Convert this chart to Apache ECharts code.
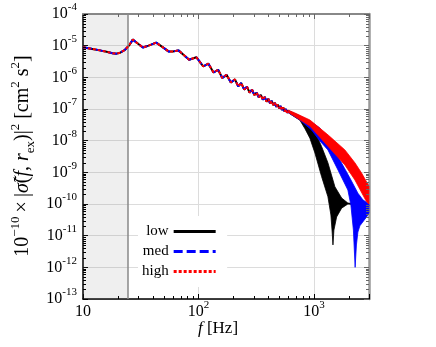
<!DOCTYPE html>
<html>
<head>
<meta charset="utf-8">
<script src="https://cdn.jsdelivr.net/npm/echarts@6/dist/echarts.min.js"></script>
<style>
  html, body { margin: 0; padding: 0; background: #fff; }
  #chart { width: 436px; height: 347px; }
</style>
</head>
<body>
<div id="chart"></div>
<script>
// axis ranges
const xRange = [10, 3000];
const yRange = [1e-13, 1e-4];
const shadeRange = [10, 24.5];
const seriesNames = ['low', 'med', 'high'];
const minorMultipliers = [2, 3, 4, 5, 6, 7, 8, 9];
const xDecades = [10, 100, 1000];
const yDecades = [1e-13, 1e-12, 1e-11, 1e-10, 1e-9, 1e-8, 1e-7, 1e-6, 1e-5];

// all three curves lie on top of each other up to ~600 Hz
const sharedCurve = [
  [10, 8.9e-6], [12, 7.9e-6], [14, 7.1e-6], [16, 6.4e-6], [18, 5.8e-6], [19.5, 5.6e-6],
  [21, 6.0e-6], [23, 7.3e-6], [25, 1.0e-5], [27, 1.55e-5], [30, 1.15e-5], [33, 8.8e-6],
  [37, 1.0e-5], [43, 1.25e-5], [50, 8.5e-6], [55, 6.6e-6], [60, 6.5e-6], [67, 7.1e-6],
  [75, 5.0e-6], [83, 3.6e-6], [96, 4.3e-6], [110, 2.21e-6], [122, 2.69e-6], [135, 1.42e-6],
  [148, 1.73e-6], [161, 9.5e-7], [175, 1.21e-6], [191, 6.9e-7], [207, 8.6e-7], [221, 5.2e-7],
  [235, 6.6e-7], [249, 4.1e-7], [263, 5.1e-7], [277, 3.3e-7], [291, 4.1e-7], [305, 2.75e-7],
  [319, 3.3e-7], [333, 2.32e-7], [347, 2.8e-7], [361, 1.97e-7], [375, 2.4e-7], [389, 1.7e-7],
  [403, 2.09e-7], [417, 1.5e-7], [431, 1.8e-7], [445, 1.33e-7], [459, 1.57e-7], [473, 1.17e-7],
  [487, 1.39e-7], [501, 1.05e-7], [515, 1.24e-7], [529, 9.3e-8], [543, 1.11e-7], [557, 8.3e-8],
  [571, 1.0e-7], [585, 7.6e-8], [599, 9.1e-8]
];

// above ~600 Hz the curves oscillate so fast they fill a band: upper / lower envelopes
const lowUpper = [
  [600, 9.0e-8], [757, 6.0e-8], [923, 3.4e-8], [1020, 1.9e-8], [1166, 6.5e-9], [1322, 2.0e-9],
  [1520, 3.5e-10], [1738, 1.55e-10], [1968, 1.07e-10], [2995, 9.3e-11]
];
const lowLower = [
  [600, 7.6e-8], [757, 4.4e-8], [836, 2.4e-8], [923, 1.2e-8], [1020, 4.1e-9], [1166, 7.3e-10],
  [1322, 1.7e-10], [1403, 4.5e-11], [1439, 1.3e-11], [1462, 5.1e-12], [1490, 1.5e-11],
  [1573, 3.9e-11], [1738, 7.4e-11], [1968, 1.0e-10], [2995, 8.9e-11]
];
const medUpper = [
  [600, 9.0e-8], [923, 4.2e-8], [1127, 2.5e-8], [1322, 1.05e-8], [1680, 2.45e-9], [2050, 6.6e-10],
  [2404, 2.2e-10], [2656, 1.35e-10], [2995, 1.0e-10]
];
const medLower = [
  [600, 7.6e-8], [757, 4.5e-8], [955, 2.17e-8], [1127, 9.8e-9], [1322, 5.1e-9], [1616, 1.19e-9],
  [1968, 2.77e-10], [2090, 9.3e-11], [2198, 1.5e-11], [2275, 1.0e-12], [2334, 5.1e-12],
  [2404, 1.3e-11], [2502, 2.05e-11], [2858, 3.9e-11], [2995, 5.2e-11]
];
const highUpper = [
  [600, 9.2e-8], [684, 7.5e-8], [923, 4.5e-8], [1330, 1.5e-8], [1855, 5.1e-9], [2265, 2.0e-9],
  [2588, 9.5e-10], [2995, 3.7e-10]
];
const highLower = [
  [600, 7.8e-8], [923, 2.9e-8], [1330, 6.5e-9], [1855, 1.7e-9], [2265, 5.75e-10],
  [2858, 1.17e-10], [2995, 1.0e-10]
];

const serif = 'Liberation Serif';
const minorX = [];
xDecades.forEach(d => minorMultipliers.forEach(m => { if (d * m < xRange[1]) minorX.push(d * m); }));
const minorY = [];
yDecades.forEach(d => minorMultipliers.forEach(m => minorY.push(d * m)));

const powRich = {
  b: { fontFamily: serif, fontSize: 16, lineHeight: 24, verticalAlign: 'middle', color: '#000' },
  s: { fontFamily: serif, fontSize: 11, lineHeight: 24, verticalAlign: 'top', color: '#000' }
};
const powLabel = v => {
  const e = Math.log10(v);
  if (Math.abs(e - Math.round(e)) > 1e-6) return '';
  const n = Math.round(e);
  return n === 1 ? '{b|10}' : '{b|10}{s|' + n + '}';
};

const band = (name, upper, lower, color, z) => ({
  type: 'custom',
  name: name,
  z: z,
  silent: true,
  data: [upper[0]],
  renderItem: (params, api) => ({
    type: 'polygon',
    shape: { points: upper.concat(lower.slice().reverse()).map(p => api.coord(p)) },
    style: { fill: color, stroke: color, lineWidth: 0.8 }
  })
});

const chart = echarts.init(document.getElementById('chart'));

chart.setOption({
  animation: false,
  backgroundColor: '#fff',
  grid: { left: 83, right: 67, top: 14, bottom: 48 },
  legend: {
    data: seriesNames,
    orient: 'vertical',
    left: 138,
    top: 216,
    align: 'right',
    itemWidth: 42,
    itemHeight: 14,
    itemGap: 5,
    padding: [8, 10, 8, 4],
    backgroundColor: '#fff',
    textStyle: { fontFamily: serif, fontSize: 15, color: '#000' },
    itemStyle: { opacity: 0 },
    lineStyle: { width: 3 }
  },
  xAxis: [
    {
      type: 'log', logBase: 10, min: xRange[0], max: xRange[1], position: 'bottom', splitNumber: 3,
      axisLine: { lineStyle: { color: '#000', width: 1.5 } },
      axisTick: { inside: true, length: 5, lineStyle: { color: '#000' } },
      axisLabel: { formatter: powLabel, rich: powRich, margin: 1 },
      splitLine: { show: true, lineStyle: { color: '#dcdcdc', width: 1 } }
    },
    {
      type: 'log', logBase: 10, min: xRange[0], max: xRange[1], position: 'top', splitNumber: 3,
      axisLine: { lineStyle: { color: '#888', width: 2 } },
      axisTick: { inside: true, length: 5, lineStyle: { color: '#666' } },
      axisLabel: { show: false },
      splitLine: { show: false }
    }
  ],
  yAxis: [
    {
      type: 'log', logBase: 10, min: yRange[0], max: yRange[1], position: 'left', splitNumber: 9,
      axisLine: { show: true, lineStyle: { color: '#000', width: 1.5 } },
      axisTick: { show: true, inside: true, length: 5, lineStyle: { color: '#000' } },
      axisLabel: { formatter: powLabel, rich: powRich, margin: 6 },
      splitLine: { show: true, lineStyle: { color: '#dcdcdc', width: 1 } }
    },
    {
      type: 'log', logBase: 10, min: yRange[0], max: yRange[1], position: 'right', splitNumber: 9,
      axisLine: { show: true, lineStyle: { color: '#999', width: 2.5 } },
      axisTick: { show: true, inside: true, length: 5, lineStyle: { color: '#666' } },
      axisLabel: { show: false },
      splitLine: { show: false }
    }
  ],
  series: [
    {
      name: 'low', type: 'line', data: sharedCurve, symbol: 'none', z: 3,
      lineStyle: { color: '#000', width: 2 }, itemStyle: { color: '#000' },
      markArea: {
        silent: true,
        itemStyle: { color: 'rgba(120,120,120,0.12)' },
        data: [[{ xAxis: shadeRange[0] }, { xAxis: shadeRange[1] }]]
      },
      markLine: {
        silent: true, symbol: ['none', 'none'], label: { show: false },
        lineStyle: { color: '#888', width: 1.5, type: 'solid' },
        data: [{ xAxis: shadeRange[1] }]
      }
    },
    {
      name: 'med', type: 'line', data: sharedCurve, symbol: 'none', z: 4,
      lineStyle: { color: '#0000ff', width: 2, type: [9, 4] }, itemStyle: { color: '#0000ff' }
    },
    {
      name: 'high', type: 'line', data: sharedCurve, symbol: 'none', z: 5,
      lineStyle: { color: '#ff0000', width: 2, type: [3, 2] }, itemStyle: { color: '#ff0000' }
    },
    band('low band', lowUpper, lowLower, '#000', 3),
    band('med band', medUpper, medLower, '#0000ff', 4),
    band('high band', highUpper, highLower, '#ff0000', 5),
    {
      // minor log ticks on all four sides
      type: 'custom', silent: true, z: 6,
      data: [[xRange[0], yRange[0]]],
      renderItem: (params, api) => {
        const cs = params.coordSys;
        const children = [];
        const seg = (x1, y1, x2, y2, c) => children.push({
          type: 'line', shape: { x1, y1, x2, y2 }, style: { stroke: c, lineWidth: 1 }
        });
        minorX.forEach(v => {
          const x = Math.round(api.coord([v, yRange[0]])[0]) + 0.5;
          seg(x, cs.y + cs.height, x, cs.y + cs.height - 3, '#000');
          seg(x, cs.y, x, cs.y + 3, '#666');
        });
        minorY.forEach(v => {
          const y = Math.round(api.coord([xRange[0], v])[1]) + 0.5;
          seg(cs.x, y, cs.x + 3, y, '#000');
          seg(cs.x + cs.width, y, cs.x + cs.width - 3, y, '#666');
        });
        return { type: 'group', children: children };
      }
    }
  ],
  graphic: [
    {
      type: 'text', x: 218, y: 329,
      style: {
        text: '{i|f} [Hz]',
        font: '17px "Liberation Serif"', fill: '#000', align: 'center', verticalAlign: 'middle',
        rich: { i: { fontFamily: serif, fontSize: 17, fontStyle: 'italic' } }
      }
    },
    {
      type: 'text', x: 23, y: 156, rotation: Math.PI / 2,
      style: {
        text: '{n|10}{sup|\u221210}{n|\u2009\u00d7\u2009|}{i|\u03c3\u0303}{n|(}{i|f}{n|, }{i|r}{sub|ex}{n|)|}{sup|2}{n| [cm}{sup|2}{n| s}{sup|2}{n|]}',
        align: 'center', verticalAlign: 'middle', fill: '#000',
        rich: {
          n: { fontFamily: serif, fontSize: 20, lineHeight: 28, verticalAlign: 'middle' },
          i: { fontFamily: serif, fontSize: 20, lineHeight: 28, fontStyle: 'italic', verticalAlign: 'middle' },
          sup: { fontFamily: serif, fontSize: 13, lineHeight: 28, verticalAlign: 'top' },
          sub: { fontFamily: serif, fontSize: 13, lineHeight: 28, verticalAlign: 'bottom' }
        }
      }
    }
  ]
});
</script>
</body>
</html>
